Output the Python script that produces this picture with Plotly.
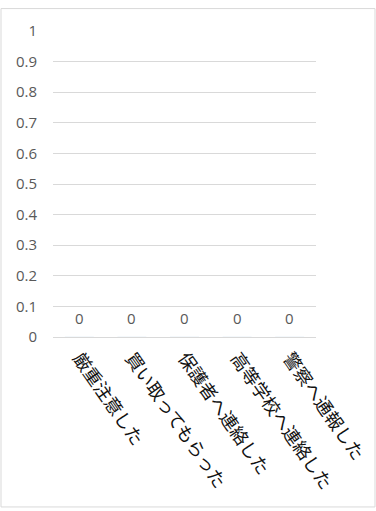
import plotly.graph_objects as go

categories = ["厳重注意した", "買い取ってもらった", "保護者へ連絡した", "高等学校へ連絡した", "警察へ通報した"]
values = [0, 0, 0, 0, 0]
y_ticks = [0, 0.1, 0.2, 0.3, 0.4, 0.5, 0.6, 0.7, 0.8, 0.9, 1]
y_tick_labels = ["0", "0.1", "0.2", "0.3", "0.4", "0.5", "0.6", "0.7", "0.8", "0.9", "1"]

GRAY = "#595959"
GRID = "#d9d9d9"
NUM_FONT = "Open Sans"
JP_FONT = "Noto Sans CJK JP"

fig = go.Figure()
fig.add_trace(go.Bar(
    x=categories, y=values,
    marker=dict(color="#4472C4"),
    width=0.55,
    hoverinfo="skip",
    showlegend=False,
))

for c, v in zip(categories, values):
    fig.add_annotation(
        x=c, y=v, xref="x", yref="y",
        text=str(v), showarrow=False,
        yshift=19,
        font=dict(family=NUM_FONT, size=15, color=GRAY),
    )

fig.update_layout(
    width=376, height=511,
    margin=dict(l=53, r=60, t=30.5, b=173.5, pad=0),
    paper_bgcolor="white", plot_bgcolor="white",
    bargap=0.45,
    xaxis=dict(
        type="category",
        tickangle=55,
        tickfont=dict(family=JP_FONT, size=18, color="#111111"),
        showgrid=False, zeroline=False, showline=False,
        ticks="", fixedrange=True,
        ticklabelstandoff=6,
        automargin=False,
    ),
    yaxis=dict(
        range=[0, 1],
        tickvals=y_ticks, ticktext=y_tick_labels,
        tickfont=dict(family=NUM_FONT, size=15, color=GRAY),
        showgrid=True, gridcolor=GRID, gridwidth=1,
        zeroline=True, zerolinecolor=GRID, zerolinewidth=1,
        showline=False, ticks="",
        ticklabelstandoff=15,
        fixedrange=True,
        automargin=False,
    ),
    shapes=[dict(
        type="rect", xref="paper", yref="paper",
        x0=(1 - 53) / 263, x1=(375 - 53) / 263,
        y0=(337.5 - 508) / 307, y1=(337.5 - 8) / 307,
        line=dict(color=GRID, width=1), fillcolor="rgba(0,0,0,0)",
        layer="below",
    )],
)

fig.write_html(
    "out.html",
    config={"displayModeBar": False, "staticPlot": True},
    post_script="document.body.style.margin='0';document.body.style.overflow='hidden';",
)
